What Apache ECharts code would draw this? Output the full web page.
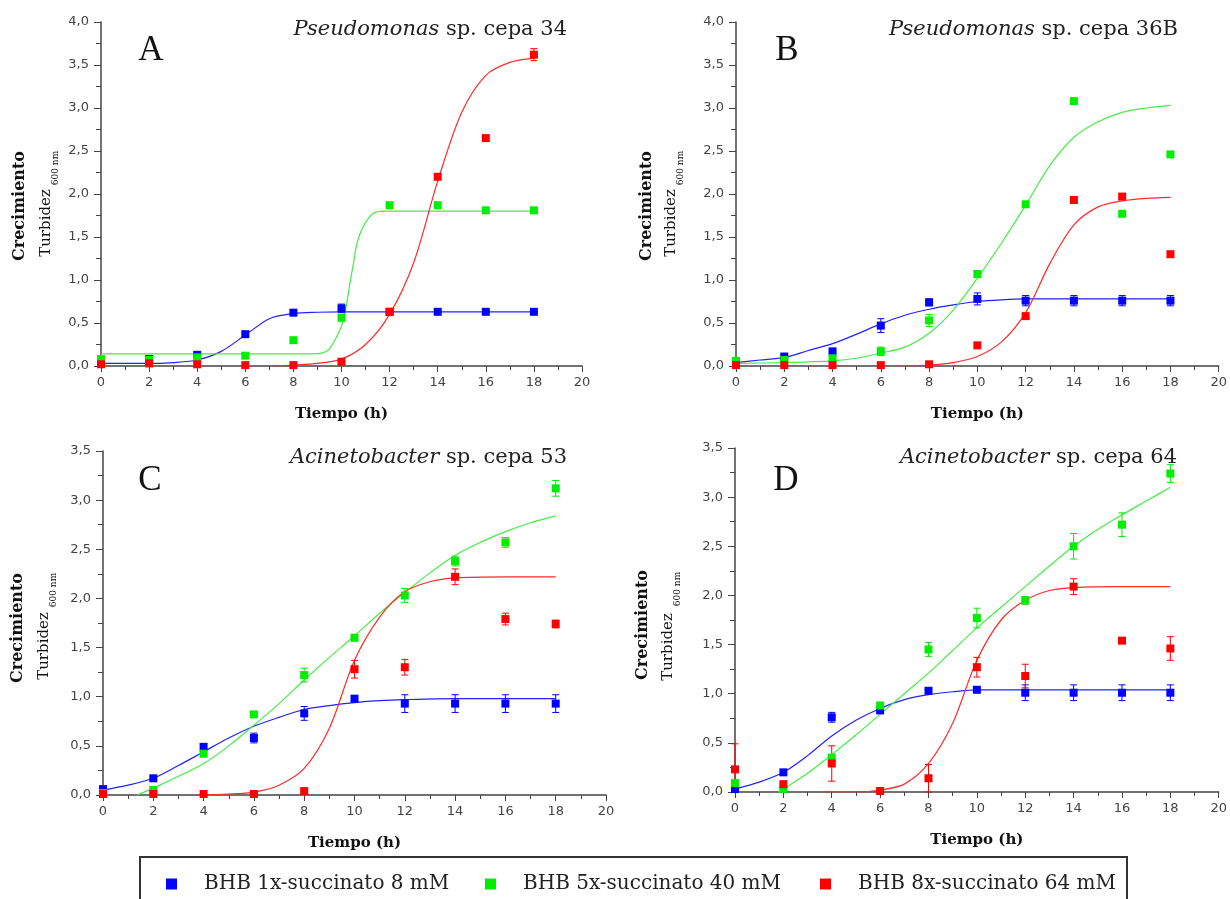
<!DOCTYPE html>
<html><head><meta charset="utf-8">
<script src="https://cdn.jsdelivr.net/npm/echarts@6/dist/echarts.min.js"></script>
<style>html,body{margin:0;padding:0;background:#fff}#c{width:1230px;height:899px}</style>
</head><body><div id="c"></div><script>
// ---------- data ----------
const hours = [0,2,4,6,8,10,12,14,16,18];
const seriesNames = ['BHB 1x-succinato 8 mM','BHB 5x-succinato 40 mM','BHB 8x-succinato 64 mM'];
const panelLetters = ['A','B','C','D'];
const titleGenus = ['Pseudomonas','Pseudomonas','Acinetobacter','Acinetobacter'];
const titleRest = [' sp. cepa 34',' sp. cepa 36B',' sp. cepa 53',' sp. cepa 64'];
const xAxisName = 'Tiempo (h)';
const yAxisName = 'Crecimiento';
const yAxisSub1 = 'Turbidez';
const yAxisSub2 = '600 nm';

// Panel A
const aBlue  = [0.03,0.08,0.13,0.37,0.62,0.67,0.63,0.63,0.63,0.63];
const aBlueErr = [0,0,0,0,0,0.05,0,0,0,0];
const aGreen = [0.08,0.07,0.10,0.12,0.30,0.56,1.87,1.87,1.81,1.81];
const aGreenErr = [0,0,0,0,0,0,0,0,0,0];
const aRed   = [0.02,0.03,0.02,0.01,0.01,0.05,0.63,2.20,2.65,3.62];
const aRedErr = [0,0,0,0,0,0,0,0,0,0.07];
const aBlueFitX = [0,1,2,3,4,5,6,7,8,9,10,12,14,16,18];
const aBlueFitY = [0.03,0.03,0.03,0.04,0.07,0.17,0.36,0.55,0.61,0.625,0.63,0.63,0.63,0.63,0.63];
const aGreenFitX = [0,4,8,9,9.25,9.5,9.8,10.08,10.35,10.5,10.65,10.9,11.3,11.75,14,18];
const aGreenFitY = [0.14,0.14,0.14,0.145,0.155,0.2,0.34,0.53,0.96,1.2,1.43,1.62,1.77,1.80,1.80,1.80];
const aRedFitX = [7.2,8,9,10,11,12,13,14,15,16,17,18];
const aRedFitY = [0,0.01,0.03,0.08,0.25,0.6,1.2,2.15,2.95,3.38,3.53,3.58];

// Panel B
const bBlue  = [0.04,0.11,0.17,0.47,0.74,0.78,0.76,0.76,0.76,0.76];
const bBlueErr = [0,0.02,0,0.08,0.04,0.07,0.06,0.06,0.06,0.06];
const bGreen = [0.06,0.07,0.09,0.17,0.53,1.07,1.88,3.08,1.77,2.46];
const bGreenErr = [0,0,0,0.05,0.07,0,0.03,0,0,0.03];
const bRed   = [0.01,0.01,0.01,0.01,0.02,0.24,0.58,1.93,1.97,1.30];
const bRedErr = [0,0,0,0,0,0,0,0,0.03,0];
const bBlueFitX = [0,1,2,3,4,5,6,7,8,9,10,11,12,14,16,18];
const bBlueFitY = [0.04,0.07,0.10,0.18,0.26,0.37,0.49,0.59,0.66,0.71,0.75,0.77,0.78,0.78,0.78,0.78];
const bGreenFitX = [0,2,4,5,6,7,8,9,10,11,12,13,14,15,16,17,18];
const bGreenFitY = [0.03,0.04,0.06,0.09,0.15,0.22,0.38,0.65,1.02,1.43,1.87,2.33,2.66,2.84,2.95,3.00,3.03];
const bRedFitX = [7,8,9,10,11,12,13,14,15,16,17,18];
const bRedFitY = [0,0.01,0.04,0.11,0.28,0.62,1.19,1.64,1.85,1.92,1.95,1.96];

// Panel C
const cBlue  = [0.06,0.17,0.49,0.58,0.83,0.98,0.93,0.93,0.93,0.93];
const cBlueErr = [0,0,0.03,0.05,0.07,0.02,0.09,0.09,0.09,0.09];
const cGreen = [0.02,0.05,0.42,0.82,1.22,1.60,2.03,2.38,2.57,3.12];
const cGreenErr = [0,0,0.03,0,0.07,0.03,0.07,0.05,0.05,0.08];
const cRed   = [0.01,0.01,0.01,0.01,0.04,1.28,1.30,2.22,1.79,1.74];
const cRedErr = [0,0,0,0,0,0.09,0.08,0.08,0.06,0.04];
const cBlueFitX = [0,1,2,3,4,5,6,7,8,9,10,11,12,14,16,18];
const cBlueFitY = [0.05,0.10,0.17,0.30,0.44,0.58,0.70,0.79,0.87,0.91,0.94,0.96,0.97,0.98,0.98,0.98];
const cGreenFitX = [1.35,2,3,4,5,6,7,8,9,10,11,12,13,14,15,16,17,18];
const cGreenFitY = [0,0.07,0.19,0.32,0.50,0.71,0.93,1.17,1.40,1.62,1.85,2.06,2.26,2.44,2.57,2.68,2.77,2.84];
const cRedFitX = [3.7,5,6,7,8,9,10,11,12,13,14,16,18];
const cRedFitY = [0,0.01,0.03,0.10,0.27,0.68,1.37,1.81,2.07,2.17,2.21,2.22,2.22];

// Panel D
const dBlue  = [0.03,0.20,0.76,0.83,1.03,1.04,1.01,1.01,1.01,1.01];
const dBlueErr = [0,0,0.05,0,0,0,0.08,0.08,0.08,0.08];
const dGreen = [0.09,0.03,0.35,0.88,1.45,1.77,1.95,2.50,2.72,3.24];
const dGreenErr = [0,0,0,0,0.07,0.10,0.04,0.13,0.12,0.09];
const dRed   = [0.23,0.08,0.29,0.01,0.14,1.27,1.18,2.09,1.54,1.46];
const dRedErr = [0.26,0,0.18,0,0.14,0.10,0.12,0.08,0.02,0.12];
const dBlueFitX = [0,1,2,3,4,5,6,7,8,9,10,12,14,16,18];
const dBlueFitY = [0.03,0.10,0.20,0.37,0.57,0.73,0.85,0.94,0.99,1.02,1.04,1.04,1.04,1.04,1.04];
const dGreenFitX = [1.8,2,3,4,5,6,7,8,9,10,11,12,13,14,15,16,17,18];
const dGreenFitY = [0,0.03,0.19,0.38,0.58,0.79,1.00,1.21,1.44,1.67,1.88,2.09,2.30,2.50,2.67,2.82,2.96,3.10];
const dRedFitX = [3.7,5,6,7,8,9,10,11,12,13,14,16,18];
const dRedFitY = [0,0,0.02,0.08,0.29,0.70,1.34,1.75,1.95,2.05,2.08,2.09,2.09];

// ---------- layout / style ----------
const markColors = ['#0000ff','#00ee00','#ff0000'];
const lineColors = ['#2222ff','#44ee44','#ff2a2a'];
const panels = [
  {grid:{left:101,top:22,width:481,height:344}, ymax:4.0,
   pts:[aBlue,aGreen,aRed], errs:[aBlueErr,aGreenErr,aRedErr],
   fits:[[aBlueFitX,aBlueFitY],[aGreenFitX,aGreenFitY],[aRedFitX,aRedFitY]],
   letter:[151,51], title:[567,30], yname:[20,206], ysub1:[46,223], ysub2:[56,168]},
  {grid:{left:736,top:22,width:484,height:344}, ymax:4.0,
   pts:[bBlue,bGreen,bRed], errs:[bBlueErr,bGreenErr,bRedErr],
   fits:[[bBlueFitX,bBlueFitY],[bGreenFitX,bGreenFitY],[bRedFitX,bRedFitY]],
   letter:[787,51], title:[1178,30], yname:[647,206], ysub1:[671,223], ysub2:[681,168]},
  {grid:{left:103,top:451,width:503,height:344}, ymax:3.5,
   pts:[cBlue,cGreen,cRed], errs:[cBlueErr,cGreenErr,cRedErr],
   fits:[[cBlueFitX,cBlueFitY],[cGreenFitX,cGreenFitY],[cRedFitX,cRedFitY]],
   letter:[150,481], title:[567,458], yname:[18,628], ysub1:[44,646], ysub2:[54,590]},
  {grid:{left:735,top:448,width:485,height:344}, ymax:3.5,
   pts:[dBlue,dGreen,dRed], errs:[dBlueErr,dGreenErr,dRedErr],
   fits:[[dBlueFitX,dBlueFitY],[dGreenFitX,dGreenFitY],[dRedFitX,dRedFitY]],
   letter:[786,481], title:[1177,458], yname:[643,625], ysub1:[668,647], ysub2:[678,589]}
];

const axisCol = '#444';
const grids = [], xAxes = [], yAxes = [], series = [], graphics = [];

function errRender(color){
  return function(params, api){
    const x = api.value(0);
    let lo = api.value(1); const hi = api.value(2);
    let cap = true;
    if (lo < 0) { lo = 0; cap = false; }
    const p1 = api.coord([x, lo]), p2 = api.coord([x, hi]);
    const w = 3.5;
    const st = {stroke: color, lineWidth: 1};
    const ch = [
      {type:'line', shape:{x1:p1[0],y1:p1[1],x2:p2[0],y2:p2[1]}, style:st},
      {type:'line', shape:{x1:p2[0]-w,y1:p2[1],x2:p2[0]+w,y2:p2[1]}, style:st}
    ];
    if (cap) ch.push({type:'line', shape:{x1:p1[0]-w,y1:p1[1],x2:p1[0]+w,y2:p1[1]}, style:st});
    return {type:'group', children: ch};
  };
}

panels.forEach((p, pi) => {
  grids.push(Object.assign({containLabel:false}, p.grid));
  xAxes.push({
    type:'value', gridIndex:pi, min:0, max:20, interval:2,
    name: xAxisName, nameLocation:'middle', nameGap:41,
    nameTextStyle:{fontFamily:'DejaVu Serif', fontWeight:'bold', fontSize:15, color:'#111'},
    axisLine:{show:true, onZero:false, lineStyle:{color:axisCol, width:1.5}},
    axisTick:{show:true, length:6, lineStyle:{color:axisCol, width:1}},
    minorTick:{show:true, splitNumber:2, length:4, lineStyle:{color:axisCol, width:1}},
    splitLine:{show:false},
    axisLabel:{margin:10, color:'#444', fontFamily:'DejaVu Sans', fontSize:13}
  });
  yAxes.push({
    type:'value', gridIndex:pi, min:0, max:p.ymax, interval:0.5,
    axisLine:{show:true, onZero:false, lineStyle:{color:axisCol, width:1.5}},
    axisTick:{show:true, length:7, lineStyle:{color:axisCol, width:1}},
    minorTick:{show:true, splitNumber:2, length:5, lineStyle:{color:axisCol, width:1}},
    splitLine:{show:false},
    axisLabel:{margin:12, color:'#444', fontFamily:'DejaVu Sans', fontSize:13,
      formatter: v => v.toFixed(1).replace('.', ',')}
  });
  // fitted curves
  p.fits.forEach((f, k) => {
    series.push({
      type:'line', name:'fit'+pi+'_'+k, xAxisIndex:pi, yAxisIndex:pi,
      data: f[0].map((x,i)=>[x, f[1][i]]),
      smooth:0.3, symbol:'none', showSymbol:false,
      lineStyle:{color:lineColors[k], width:1.2}, silent:true, z:2
    });
  });
  // error bars
  p.pts.forEach((vals, k) => {
    const e = p.errs[k];
    const d = [];
    hours.forEach((h,i) => { if (e[i] > 0) d.push([h, vals[i]-e[i], vals[i]+e[i]]); });
    series.push({
      type:'custom', name:'err'+pi+'_'+k, xAxisIndex:pi, yAxisIndex:pi,
      data:d, encode:{x:0, y:[1,2]}, renderItem: errRender(markColors[k]), silent:true, z:3
    });
  });
  // data points
  p.pts.forEach((vals, k) => {
    series.push({
      type:'scatter', name: seriesNames[k], xAxisIndex:pi, yAxisIndex:pi,
      data: hours.map((h,i)=>[h, vals[i]]),
      symbol:'rect', symbolSize:8, itemStyle:{color:markColors[k], opacity:1}, z:4
    });
  });
  // decorations
  graphics.push({type:'text', x:p.letter[0], y:p.letter[1],
    style:{text:panelLetters[pi], fontFamily:'Liberation Serif', fontSize:35, fill:'#111', align:'center', verticalAlign:'middle'}});
  graphics.push({type:'text', x:p.title[0], y:p.title[1],
    style:{text:'{i|'+titleGenus[pi]+'}{n|'+titleRest[pi]+'}', align:'right', verticalAlign:'middle',
      rich:{i:{fontFamily:'DejaVu Serif', fontStyle:'italic', fontSize:21, fill:'#222'},
            n:{fontFamily:'DejaVu Serif', fontSize:21, fill:'#222'}}}});
  graphics.push({type:'text', x:p.yname[0], y:p.yname[1], rotation:Math.PI/2,
    style:{text:yAxisName, fontFamily:'DejaVu Serif', fontWeight:'bold', fontSize:16, fill:'#111', align:'center', verticalAlign:'middle'}});
  graphics.push({type:'text', x:p.ysub1[0], y:p.ysub1[1], rotation:Math.PI/2,
    style:{text:yAxisSub1, fontFamily:'DejaVu Serif', fontSize:15, fill:'#111', align:'center', verticalAlign:'middle'}});
  graphics.push({type:'text', x:p.ysub2[0], y:p.ysub2[1], rotation:Math.PI/2,
    style:{text:yAxisSub2, fontFamily:'DejaVu Serif', fontSize:9, fill:'#111', align:'center', verticalAlign:'middle'}});
});

// legend box
graphics.push({type:'rect', z:-1, shape:{x:140, y:857, width:987, height:60},
  style:{fill:'#fff', stroke:'#333', lineWidth:2}});

const legendLefts = [166, 485, 820];
const legends = seriesNames.map((n, i) => ({
  data:[n], left:legendLefts[i], top:874, padding:0, icon:'rect', itemWidth:11, itemHeight:11,
  selectedMode:false,
  textStyle:{fontFamily:'DejaVu Serif', fontSize:20, color:'#222', padding:[0,0,0,22], lineHeight:20}
}));

const chart = echarts.init(document.getElementById('c'), null, {renderer:'canvas'});
chart.setOption({
  animation:false,
  backgroundColor:'#fff',
  grid: grids, xAxis: xAxes, yAxis: yAxes,
  legend: legends,
  graphic: graphics,
  series: series
});
</script></body></html>
